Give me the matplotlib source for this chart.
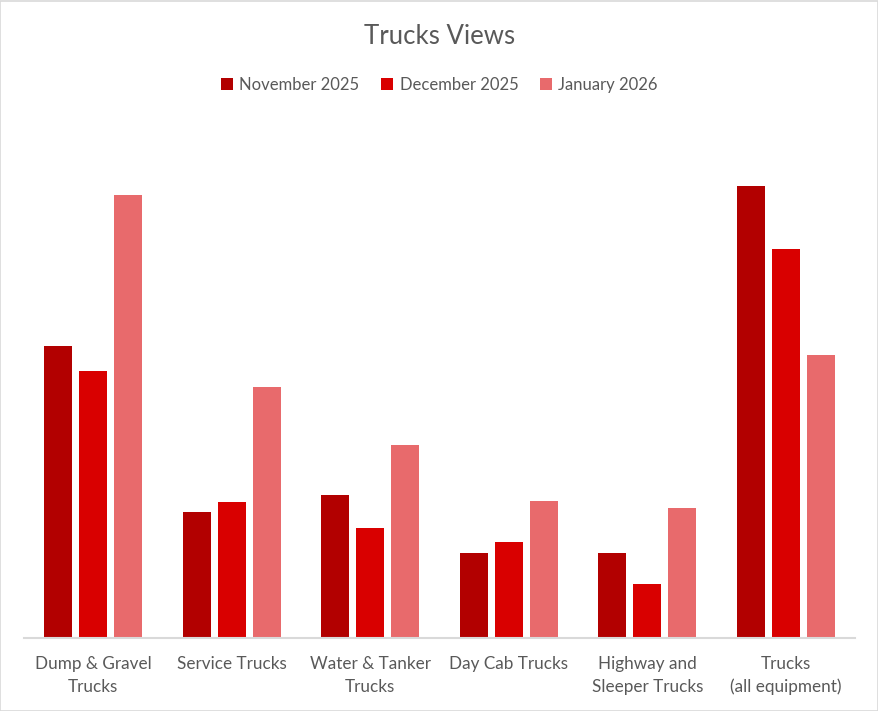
import numpy as np
import matplotlib
matplotlib.use("Agg")
import matplotlib.pyplot as plt
from matplotlib.patches import Rectangle

plt.rcParams['font.family'] = ['Lato', 'DejaVu Sans']

categories = ["Dump & Gravel\nTrucks", "Service Trucks", "Water & Tanker\nTrucks",
              "Day Cab Trucks", "Highway and\nSleeper Trucks", "Trucks\n(all equipment)"]
series = ["November 2025", "December 2025", "January 2026"]
nov = [292, 126, 143, 85, 85, 452]
dec = [267, 136, 110, 96, 54, 389]
jan = [443, 251, 193, 137, 130, 283]
colors = ["#B20000", "#D90000", "#E86A6C"]
text_col = "#595959"

fig = plt.figure(figsize=(8.79, 7.11), dpi=100)
ax = fig.add_axes([24/879, 73/711, 831/879, 498/711])

x = np.arange(len(categories))
w = 0.202
step = 0.253
for i, (vals, name) in enumerate(zip([nov, dec, jan], series)):
    ax.bar(x + (i - 1) * step, vals, width=w, color=colors[i], label=name, zorder=2)

ax.set_xlim(-0.5, len(categories) - 0.5)
ax.set_ylim(0, 498)
ax.set_yticks([])
ax.set_xticks(x)
ax.set_xticklabels(categories, fontsize=12.3, color=text_col, linespacing=1.5)
ax.tick_params(axis='x', length=0, pad=13)
for s in ['top', 'right', 'left']:
    ax.spines[s].set_visible(False)
ax.spines['bottom'].set_color("#D9D9D9")
ax.spines['bottom'].set_linewidth(1.5)

fig.text(0.5, 1 - 37/711, "Trucks Views", ha='center', va='center', fontsize=18.5, color=text_col)
leg = fig.legend(loc='center', bbox_to_anchor=(0.5, 1 - 85/711), ncol=3, frameon=False,
                 fontsize=12, handlelength=0.7, handleheight=0.7, handletextpad=0.4,
                 columnspacing=1.3)
for t in leg.get_texts():
    t.set_color(text_col)

fig.patches.append(Rectangle((0.5/879, 0.5/711), 1 - 1.5/879, 1 - 1.5/711, transform=fig.transFigure,
                             fill=False, edgecolor="#D9D9D9", linewidth=1.2))

fig.savefig("out.png", dpi=100, facecolor='white')
